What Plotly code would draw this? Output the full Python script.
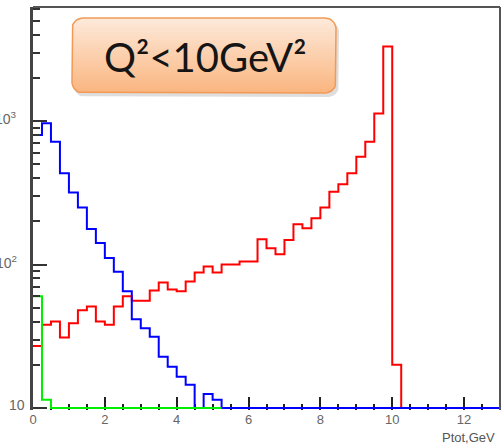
import numpy as np
import plotly.graph_objects as go

# ---------------- data ----------------
BIN_WIDTH = 0.25
X_MAX = 13.0
red_counts = [27, 38, 40, 31, 39, 48, 51, 40, 38, 51, 60, 56, 56, 66, 75, 67, 65, 76, 88, 97,
              88, 100, 100, 105, 105, 150, 130, 118, 148, 191, 179, 210, 250, 321, 362, 432,
              564, 718, 1130, 3300, 20, 0, 0, 0, 0, 0, 0, 0, 0, 0, 0, 0]
blue_counts = [800, 964, 718, 432, 318, 250, 177, 141, 111, 89, 65, 41.5, 36, 31.4, 22.8,
               19.4, 16.5, 14.5, 0, 12.5, 11.4] + [0] * 31
green_counts = [60, 11.4] + [0] * 19
y_tick_vals = [10, 100, 1000]
y_tick_text = ["10", "10<sup>2</sup>", "10<sup>3</sup>"]
x_tick_vals = [0, 2, 4, 6, 8, 10, 12]
x_title = "Ptot,GeV"
box_text = "Q²<10GeV²"

# ---------------- geometry ----------------
W, H = 501, 445
L, R, T, B = 33, 1, 7, 35
PW, PH = W - L - R, H - T - B
DECADE = 143.5
Y_LO = 1 - 2.0 / DECADE
Y_HI = Y_LO + PH / DECADE
FLOOR = 10.0


def px2paper(px, py):
    return (px - L) / PW, (H - B - py) / PH


def step_trace(counts, color):
    c = np.array(counts, dtype=float)
    edges = np.arange(len(c) + 1) * BIN_WIDTH
    y = np.where(c > 0, c, FLOOR)
    y = np.append(y, y[-1])
    return go.Scatter(x=edges, y=y, mode="lines", line=dict(color=color, width=2, shape="hv"),
                      hoverinfo="skip", showlegend=False)


fig = go.Figure()
fig.add_trace(step_trace(red_counts, "#ff0000"))
fig.add_trace(step_trace(blue_counts, "#0000ff"))
fig.add_trace(step_trace(green_counts, "#00ee00"))

# rounded box (in pixel coords on hidden overlay axes)
bx0, bx1, by0, by1, rad = 72, 336, 18, 93, 11


def rounded(x0, x1, y0, y1, r):
    pts = []
    for cx, cy, a0 in [(x1 - r, y0 + r, -90), (x1 - r, y1 - r, 0), (x0 + r, y1 - r, 90), (x0 + r, y0 + r, 180)]:
        a = np.radians(np.linspace(a0, a0 + 90, 10))
        pts += list(zip(cx + r * np.cos(a), cy + r * np.sin(a)))
    pts.append(pts[0])
    return [p[0] for p in pts], [p[1] for p in pts]


sx, sy = rounded(bx0 + 2, bx1 + 3, by0 + 3, by1 + 4, rad)
fig.add_trace(go.Scatter(x=sx, y=sy, xaxis="x2", yaxis="y2", mode="lines", fill="toself",
                         fillcolor="rgba(0,0,0,0.13)", line=dict(width=0, color="rgba(0,0,0,0)"),
                         hoverinfo="skip", showlegend=False))
rx, ry = rounded(bx0, bx1, by0, by1, rad)
fig.add_trace(go.Scatter(x=rx, y=ry, xaxis="x2", yaxis="y2", mode="lines", fill="toself",
                         fillgradient=dict(type="vertical", start=by0, stop=by1,
                                           colorscale=[[0, "#fdeadb"], [1, "#fab57f"]]),
                         line=dict(width=1.5, color="#f29a55"),
                         hoverinfo="skip", showlegend=False))

fig.add_annotation(x=(bx0 + bx1) / 2 + 1, y=57, xref="x2", yref="y2", text=box_text, showarrow=False,
                   font=dict(family="Lato", size=40, color="#151515"), xanchor="center", yanchor="middle")

# y tick labels (annotations)
for v, t in zip(y_tick_vals, y_tick_text):
    py = (H - B) - (np.log10(v) - Y_LO) * DECADE
    xr = 27 if v == 10 else 19
    ax_, ay_ = px2paper(xr, py - 3)
    fig.add_annotation(x=ax_, y=ay_, xref="paper", yref="paper", text=t, showarrow=False,
                       xanchor="right", yanchor="middle", font=dict(family="Liberation Sans", size=14, color="#666"))

tx, ty = px2paper(497, 437)
fig.add_annotation(x=tx, y=ty, xref="paper", yref="paper", text=x_title, showarrow=False,
                   xanchor="right", yanchor="middle", font=dict(family="Liberation Sans", size=13, color="#555"))

# frame: top and right edges
fig.add_shape(type="line", xref="paper", yref="paper", x0=0, x1=1, y0=1, y1=1,
              line=dict(color="#555", width=2), layer="above")
fig.add_shape(type="line", xref="paper", yref="paper", x0=1, x1=1, y0=0, y1=1,
              line=dict(color="#555", width=2), layer="above")

fig.update_layout(
    width=W, height=H, autosize=False,
    margin=dict(l=L, r=R, t=T, b=B),
    paper_bgcolor="white", plot_bgcolor="white",
    xaxis=dict(range=[0, X_MAX], tickvals=x_tick_vals, ticks="inside", ticklen=13, tickwidth=1.5,
               tickcolor="#222", showline=False, showgrid=False, layer="below traces",
               zeroline=False, tickfont=dict(family="Liberation Sans", size=13, color="#666"),
               minor=dict(ticks="inside", ticklen=6, tickwidth=1.5, dtick=0.5, tickcolor="#222", showgrid=False)),
    yaxis=dict(type="log", range=[Y_LO, Y_HI], tickvals=y_tick_vals, ticks="inside", ticklen=14,
               tickwidth=1.5, tickcolor="#333", showticklabels=False, showline=True, linecolor="#444",
               linewidth=3, showgrid=False, zeroline=False,
               minor=dict(ticks="inside", ticklen=7, tickwidth=1.5, dtick="D1", tickcolor="#333", showgrid=False)),
    xaxis2=dict(overlaying="x", range=[L, W - R], visible=False),
    yaxis2=dict(overlaying="y", range=[H - B, T], visible=False),
)

fig.write_html("out.html")
